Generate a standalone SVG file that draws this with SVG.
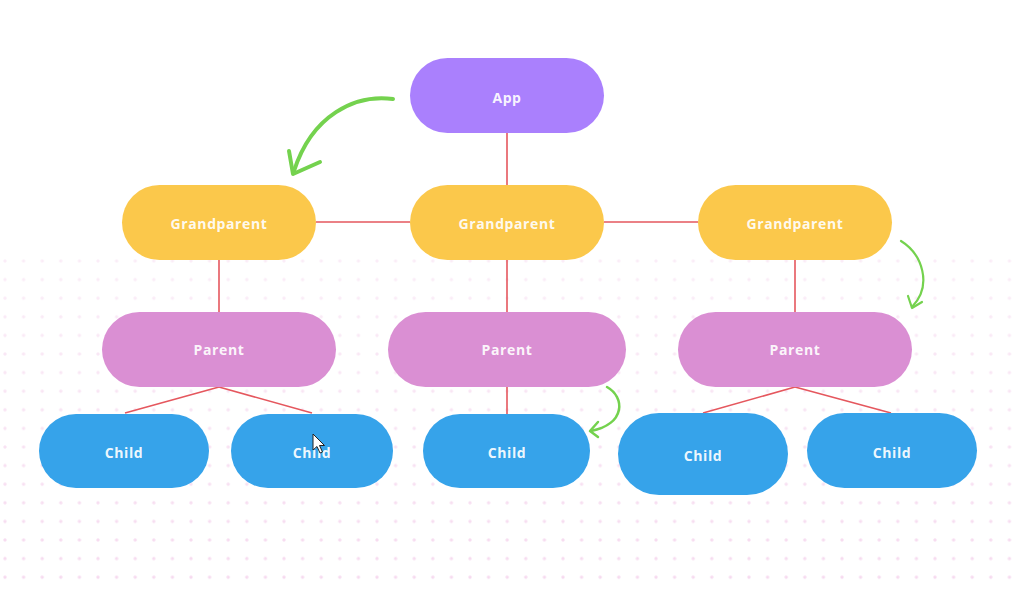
<svg xmlns="http://www.w3.org/2000/svg" width="1014" height="589" viewBox="0 0 1014 589">
  <style>
    .lbl { font-family: "Open Sans", "Liberation Sans", sans-serif; font-weight: 700; font-size: 14px; fill: #ffffff; fill-opacity: 0.93; text-anchor: middle; dominant-baseline: central; letter-spacing: 0.6px; }
    .app { fill: #aa80fd; }
    .gp { fill: #fbc84b; }
    .par { fill: #da8fd3; }
    .child { fill: #36a3ea; }
    .edge { stroke: #e5575e; stroke-width: 1.6; fill: none; }
    .green { stroke: #74d24e; fill: none; stroke-linecap: round; stroke-linejoin: round; }
  </style>
  <defs>
    <pattern id="dots" x="5" y="261" width="18.6" height="18.6" patternUnits="userSpaceOnUse">
      <circle cx="0" cy="0" r="1.7" fill="#f6d9ef"/>
      <circle cx="18.6" cy="0" r="1.7" fill="#f6d9ef"/>
      <circle cx="0" cy="18.6" r="1.7" fill="#f6d9ef"/>
      <circle cx="18.6" cy="18.6" r="1.7" fill="#f6d9ef"/>
    </pattern>
    <linearGradient id="fade" x1="0" y1="0" x2="0" y2="1">
      <stop offset="0" stop-color="#fff" stop-opacity="0.45"/>
      <stop offset="1" stop-color="#fff" stop-opacity="1"/>
    </linearGradient>
    <mask id="fademask">
      <rect x="0" y="250" width="1014" height="339" fill="url(#fade)"/>
    </mask>
  </defs>
  <rect width="1014" height="589" fill="#ffffff"/>
  <rect x="0" y="252" width="1014" height="337" fill="url(#dots)" mask="url(#fademask)"/>

  <g id="connectors">
    <line class="edge" x1="507" y1="133" x2="507" y2="185"/>
    <line class="edge" x1="316" y1="222" x2="410" y2="222"/>
    <line class="edge" x1="604" y1="222" x2="698" y2="222"/>
    <line class="edge" x1="219" y1="260" x2="219" y2="312"/>
    <line class="edge" x1="507" y1="260" x2="507" y2="312"/>
    <line class="edge" x1="795" y1="260" x2="795" y2="312"/>
    <line class="edge" x1="219" y1="387" x2="125" y2="413"/>
    <line class="edge" x1="219" y1="387" x2="312" y2="413"/>
    <line class="edge" x1="507" y1="387" x2="507" y2="414"/>
    <line class="edge" x1="795" y1="387" x2="703" y2="413"/>
    <line class="edge" x1="795" y1="387" x2="891" y2="413"/>
  </g>

  <g id="node-app">
    <rect class="app" x="410" y="58" width="194" height="75" rx="37.5"/>
    <text class="lbl" x="507" y="97">App</text>
  </g>
  <g id="node-gp-left">
    <rect class="gp" x="122" y="185" width="194" height="75" rx="37.5"/>
    <text class="lbl" x="219" y="223">Grandparent</text>
  </g>
  <g id="node-gp-mid">
    <rect class="gp" x="410" y="185" width="194" height="75" rx="37.5"/>
    <text class="lbl" x="507" y="223">Grandparent</text>
  </g>
  <g id="node-gp-right">
    <rect class="gp" x="698" y="185" width="194" height="75" rx="37.5"/>
    <text class="lbl" x="795" y="223">Grandparent</text>
  </g>
  <g id="node-parent-left">
    <rect class="par" x="102" y="312" width="234" height="75" rx="37.5"/>
    <text class="lbl" x="219" y="349">Parent</text>
  </g>
  <g id="node-parent-mid">
    <rect class="par" x="388" y="312" width="238" height="75" rx="37.5"/>
    <text class="lbl" x="507" y="349">Parent</text>
  </g>
  <g id="node-parent-right">
    <rect class="par" x="678" y="312" width="234" height="75" rx="37.5"/>
    <text class="lbl" x="795" y="349">Parent</text>
  </g>
  <g id="node-child-1">
    <rect class="child" x="39" y="414" width="170" height="74" rx="37"/>
    <text class="lbl" x="124" y="452">Child</text>
  </g>
  <g id="node-child-2">
    <rect class="child" x="231" y="414" width="162" height="74" rx="37"/>
    <text class="lbl" x="312" y="452">Child</text>
  </g>
  <g id="node-child-3">
    <rect class="child" x="423" y="414" width="167" height="74" rx="37"/>
    <text class="lbl" x="507" y="452">Child</text>
  </g>
  <g id="node-child-4">
    <rect class="child" x="618" y="413" width="170" height="82" rx="41"/>
    <text class="lbl" x="703" y="455">Child</text>
  </g>
  <g id="node-child-5">
    <rect class="child" x="807" y="413" width="170" height="75" rx="37.5"/>
    <text class="lbl" x="892" y="452">Child</text>
  </g>

  <g id="green-arrows">
    <path class="green" stroke-width="4" d="M393,99 C355,94 312,115 294,171"/>
    <path class="green" stroke-width="4" d="M289,151 L293,174 L320,162"/>
    <path class="green" stroke-width="2.2" d="M901,241 C922,254 933,285 912,307"/>
    <path class="green" stroke-width="2.2" d="M908,296 L912,308 L922,302"/>
    <path class="green" stroke-width="2.5" d="M607,387 C625,397 626,424 591,431"/>
    <path class="green" stroke-width="2.5" d="M598,422 L590,431 L598,437"/>
  </g>

  <g id="cursor">
    <path d="M313,434 L313,450 L317,446.5 L320,453 L322.5,452 L319.5,445.5 L324.5,445.5 Z" fill="#ffffff" stroke="#222222" stroke-width="1"/>
  </g>
</svg>
